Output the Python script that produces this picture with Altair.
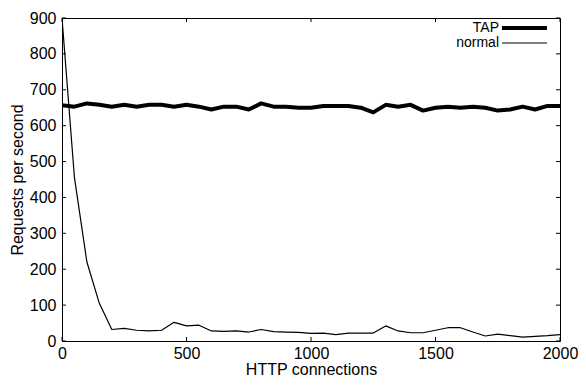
import altair as alt
import pandas as pd

# ---- data ----
connections = list(range(0, 2001, 50))
tap_rps = [657, 653, 662, 658, 653, 658, 653, 658, 658, 653,
           658, 653, 645, 653, 653, 645, 662, 653, 653, 650,
           650, 655, 655, 655, 650, 637, 658, 653, 658, 642,
           650, 653, 650, 653, 650, 642, 645, 653, 645, 655, 655]
normal_rps = [900, 455, 220, 105, 32, 35, 30, 28, 30, 52,
              42, 44, 28, 27, 28, 25, 32, 26, 25, 24,
              21, 22, 18, 22, 22, 22, 42, 28, 23, 23,
              30, 37, 37, 25, 14, 19, 15, 11, 13, 15, 18]
series_names = ["TAP", "normal"]
x_ticks = [0, 500, 1000, 1500, 2000]
y_ticks = [0, 100, 200, 300, 400, 500, 600, 700, 800, 900]

W, H = 498, 323
FONT = "Liberation Sans"
FS = 16

df = pd.DataFrame({
    "conn": connections * 2,
    "rps": tap_rps + normal_rps,
    "series": ["TAP"] * len(tap_rps) + ["normal"] * len(normal_rps),
})
xt = pd.DataFrame({"conn": x_ticks})
yt = pd.DataFrame({"rps": y_ticks})
leg = pd.DataFrame({"series": series_names})

xscale = alt.Scale(domain=[0, 2000], nice=False, zero=False)
yscale = alt.Scale(domain=[0, 900], nice=False, zero=False)

xaxis = alt.Axis(values=x_ticks, format="d", title="HTTP connections", tickSize=0,
                 domain=False, grid=False, labelFlush=False, labelPadding=4,
                 labelFontSize=FS, titleFontSize=FS, titleFontWeight="normal",
                 labelFont=FONT, titleFont=FONT, labelColor="black",
                 titleColor="black", titlePadding=0)
yaxis = alt.Axis(values=y_ticks, format="d", title="Requests per second", tickSize=0,
                 domain=False, grid=False, labelPadding=6,
                 labelFontSize=FS, titleFontSize=FS, titleFontWeight="normal",
                 labelFont=FONT, titleFont=FONT, labelColor="black",
                 titleColor="black", titlePadding=4)

lines = alt.Chart(df).mark_line(color="black", clip=True, strokeJoin="round").encode(
    x=alt.X("conn:Q", scale=xscale, axis=xaxis),
    y=alt.Y("rps:Q", scale=yscale, axis=yaxis),
    strokeWidth=alt.StrokeWidth("series:N",
                                scale=alt.Scale(domain=series_names, range=[4, 1.2]),
                                legend=None),
    detail="series:N",
)

xb = alt.Chart(xt).mark_rule(color="black").encode(
    x=alt.X("conn:Q", scale=xscale, axis=xaxis), y=alt.value(H), y2=alt.value(H - 4))
xtop = alt.Chart(xt).mark_rule(color="black").encode(
    x=alt.X("conn:Q", scale=xscale, axis=xaxis), y=alt.value(0), y2=alt.value(4))
yl = alt.Chart(yt).mark_rule(color="black").encode(
    y=alt.Y("rps:Q", scale=yscale, axis=yaxis), x=alt.value(0), x2=alt.value(4))
yr = alt.Chart(yt).mark_rule(color="black").encode(
    y=alt.Y("rps:Q", scale=yscale, axis=yaxis), x=alt.value(W), x2=alt.value(W - 4))

def legend_entry(name, ypix, width):
    base = alt.Chart(leg).transform_filter(alt.datum.series == name)
    txt = base.mark_text(align="right", baseline="middle", fontSize=14, font=FONT,
                         color="black").encode(
        text="series:N", x=alt.value(W - 61), y=alt.value(ypix))
    rl = base.mark_rule(color="black", strokeWidth=width).encode(
        x=alt.value(W - 58), x2=alt.value(W - 13), y=alt.value(ypix))
    return txt + rl

chart = alt.layer(
    lines, xb, xtop, yl, yr,
    legend_entry("TAP", 10, 4),
    legend_entry("normal", 25, 1.2),
).properties(
    width=W, height=H,
    autosize=alt.AutoSizeParams(type="none"),
    padding={"left": 54, "top": 10, "right": 18, "bottom": 37},
).configure_view(stroke="black", strokeWidth=1)

chart.save("out.html", embed_options={"renderer": "svg", "actions": False})
